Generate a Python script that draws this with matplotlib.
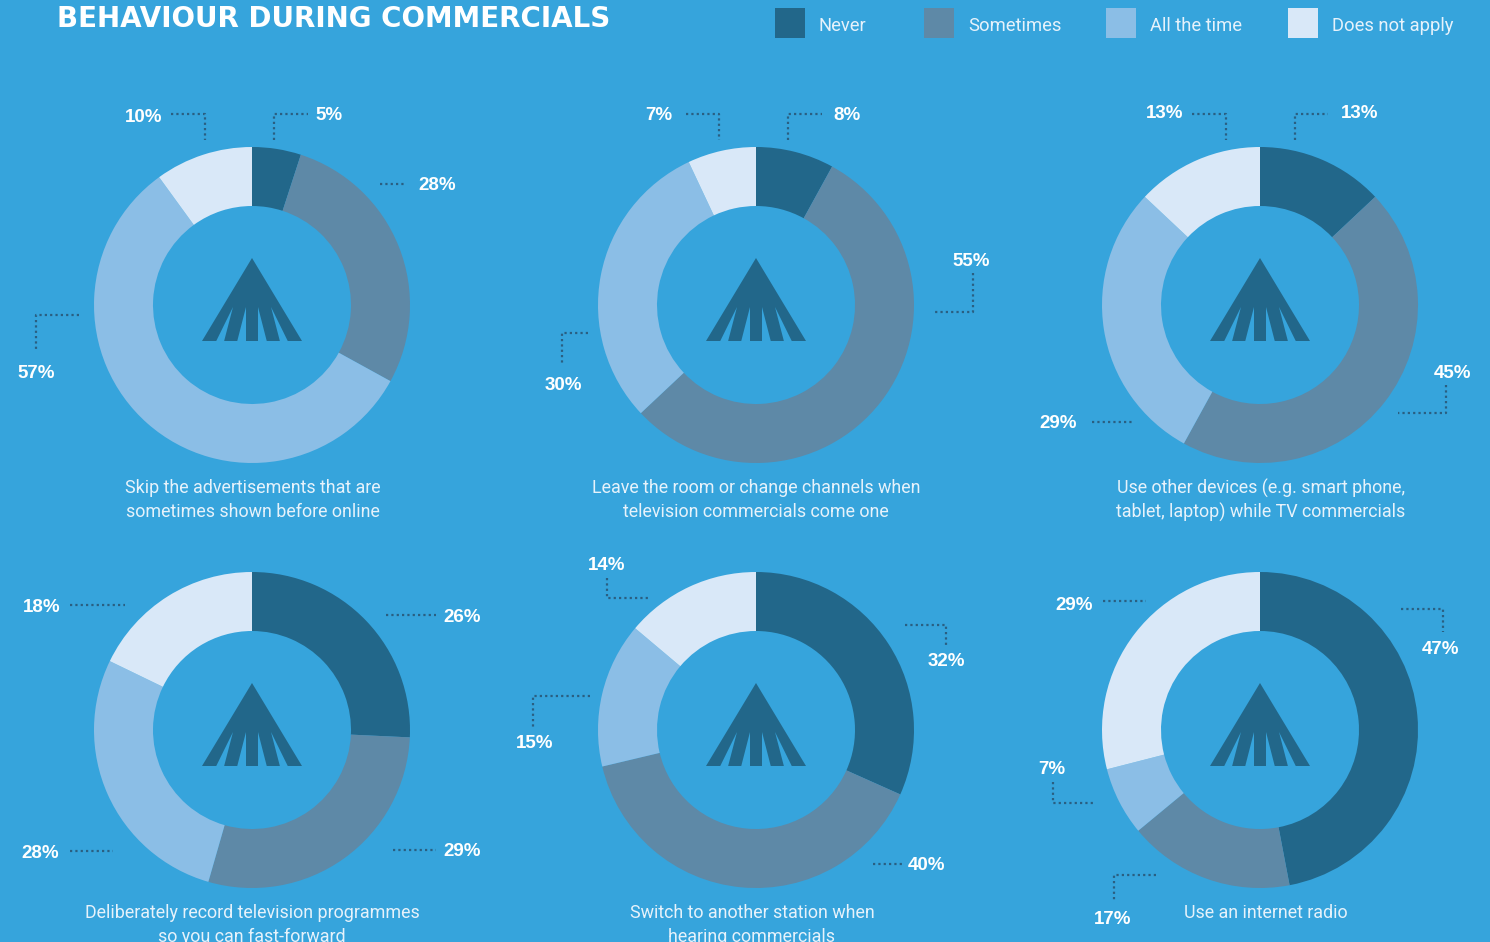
import matplotlib
matplotlib.use("Agg")
import matplotlib.pyplot as plt
from matplotlib.patches import Polygon, Rectangle

# ---------------- data ----------------
title = "BEHAVIOUR DURING COMMERCIALS"
categories = ["Never", "Sometimes", "All the time", "Does not apply"]
captions = [
    "Skip the advertisements that are\nsometimes shown before online",
    "Leave the room or change channels when\ntelevision commercials come one",
    "Use other devices (e.g. smart phone,\ntablet, laptop) while TV commercials",
    "Deliberately record television programmes\nso you can fast-forward",
    "Switch to another station when\nhearing commercials",
    "Use an internet radio",
]
skip_ads = [5, 28, 57, 10]
leave_room = [8, 55, 30, 7]
other_devices = [13, 45, 29, 13]
record_tv = [26, 29, 28, 18]
switch_station = [32, 40, 15, 14]
internet_radio = [47, 17, 7, 29]
series = [skip_ads, leave_room, other_devices, record_tv, switch_station, internet_radio]

# ---------------- style / layout ----------------
W, H = 1490, 942
BG = "#36A4DC"
COLORS = ["#22678A", "#5E89A7", "#8BBEE6", "#D9E8F8"]
LOGO = "#22678A"
DOT = "#2A5F82"
TXT_LIGHT = "#E6F2FB"
R_OUT, R_IN = 158, 99
CAP_FONT = ["Roboto", "Liberation Sans", "DejaVu Sans"]

centers = [(252, 305), (756, 305), (1260, 305), (252, 730), (756, 730), (1260, 730)]
caption_dx = [1, 0, 1, 0, -4, 6]
LINE_GAP = 24  # px between caption lines

# per chart, per segment: (label offset, leader polyline offsets) relative to centre, y down
layout = [
    [((77, -191), [(22, -165), (22, -191), (56, -191)]),
     ((185, -121), [(128, -121), (154, -121)]),
     ((-216, 66), [(-173, 10), (-216, 10), (-216, 45)]),
     ((-108, -189), [(-81, -191), (-47, -191), (-47, -165)])],
    [((91, -191), [(32, -165), (32, -191), (66, -191)]),
     ((215, -45), [(217, -32), (217, 7), (176, 7)]),
     ((-193, 78), [(-168, 28), (-194, 28), (-194, 58)]),
     ((-97, -191), [(-70, -191), (-37, -191), (-37, -165)])],
    [((100, -194), [(35, -165), (35, -191), (68, -191)]),
     ((192, 66), [(186, 80), (186, 108), (138, 108)]),
     ((-202, 116), [(-168, 117), (-126, 117)]),
     ((-95, -194), [(-68, -191), (-34, -191), (-34, -165)])],
    [((210, -115), [(134, -115), (184, -115)]),
     ((210, 120), [(141, 120), (184, 120)]),
     ((-212, 121), [(-182, 121), (-139, 121)]),
     ((-210, -124), [(-182, -125), (-127, -125)])],
    [((190, -70), [(149, -105), (190, -105), (190, -85)]),
     ((171, 134), [(117, 134), (146, 134)]),
     ((-221, 12), [(-166, -34), (-223, -34), (-223, -3)]),
     ((-149, -166), [(-149, -152), (-149, -132), (-106, -132)])],
    [((181, -82), [(141, -121), (183, -121), (183, -98)]),
     ((-147, 187), [(-104, 145), (-146, 145), (-146, 172)]),
     ((-208, 38), [(-207, 52), (-207, 73), (-165, 73)]),
     ((-186, -127), [(-157, -129), (-114, -129)])],
]
LABEL_NUDGE = 2  # px downward

# logo geometry (offsets from centre, y down)
logo_tri = [(0, -47), (-50, 36), (50, 36)]
logo_slits = [
    [(-19, 2), (-28, 36.5), (-36, 36.5)],
    [(-6, 2), (-6, 36.5), (-15, 36.5)],
    [(6, 2), (6, 36.5), (15, 36.5)],
    [(19, 2), (28, 36.5), (36, 36.5)],
]


def P(cx, cy, dx=0, dy=0):
    return (cx + dx, H - (cy + dy))


fig = plt.figure(figsize=(W / 100, H / 100), dpi=100, facecolor=BG)
ax = fig.add_axes([0, 0, 1, 1])
ax.set_facecolor(BG)

for i, (vals, (cx, cy)) in enumerate(zip(series, centers)):
    ax.pie(vals, colors=COLORS, startangle=90, counterclock=False,
           radius=R_OUT, center=P(cx, cy), frame=True,
           wedgeprops=dict(width=R_OUT - R_IN, linewidth=0, antialiased=True))
    # logo
    ax.add_patch(Polygon([P(cx, cy, dx, dy) for dx, dy in logo_tri],
                         closed=True, facecolor=LOGO, edgecolor="none", zorder=5))
    for s in logo_slits:
        ax.add_patch(Polygon([P(cx, cy, dx, dy) for dx, dy in s],
                             closed=True, facecolor=BG, edgecolor="none", zorder=6))
    # labels + leaders
    for v, (lab, line) in zip(vals, layout[i]):
        xs, ys = zip(*[P(cx, cy, dx, dy) for dx, dy in line])
        ax.plot(xs, ys, color=DOT, lw=1.6, linestyle=(0, (1.0, 1.4)),
                solid_capstyle="butt", dash_capstyle="butt", zorder=4)
        lx, ly = P(cx, cy, lab[0], lab[1] + LABEL_NUDGE)
        ax.text(lx, ly, f"{v}%", color="white", fontsize=13.5, fontweight="bold",
                family=["Liberation Sans", "DejaVu Sans"], ha="center", va="center",
                zorder=7)
    # caption (each line placed separately)
    for k, line_txt in enumerate(captions[i].split("\n")):
        tx, ty = P(cx, cy, caption_dx[i], 183 + k * LINE_GAP)
        ax.text(tx, ty, line_txt, color=TXT_LIGHT, fontsize=12.9, fontweight="normal",
                family=CAP_FONT, ha="center", va="center", zorder=7)

# title
ax.text(57, H - 19, title, color="white", fontsize=20, fontweight="bold",
        family=["DejaVu Sans"], ha="left", va="center")

# legend
legend_x = [775, 924, 1106, 1288]
for cat, col, lx in zip(categories, COLORS, legend_x):
    ax.add_patch(Rectangle((lx, H - 38), 30, 30, facecolor=col, edgecolor="none"))
    ax.text(lx + 44, H - 26, cat, color=TXT_LIGHT, fontsize=13.2, fontweight="normal",
            family=CAP_FONT, ha="left", va="center")

ax.set_xlim(0, W)
ax.set_ylim(0, H)
ax.set_aspect("equal")
ax.axis("off")

fig.savefig("out.png", dpi=100, facecolor=BG)
